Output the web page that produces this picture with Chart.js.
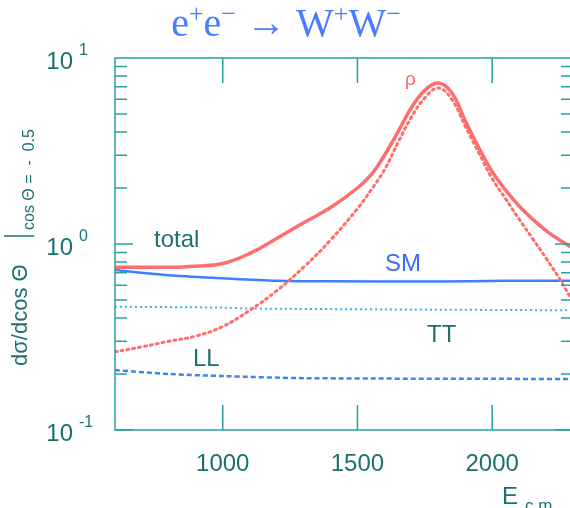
<!DOCTYPE html>
<html>
<head>
<meta charset="utf-8">
<script src="https://cdn.jsdelivr.net/npm/chart.js@4.4.1/dist/chart.umd.min.js"></script>
<style>
  html, body { margin: 0; padding: 0; background: #fff; overflow: hidden; }
  #wrap { width: 576px; height: 508px; }
</style>
</head>
<body>
<div id="wrap"><canvas id="ww" width="576" height="508"></canvas></div>
<script>
// values
const energy = [600, 700, 800, 900, 1000, 1100, 1200, 1300, 1400, 1500, 1550, 1600, 1650, 1700, 1750, 1800, 1850, 1900, 1950, 2000, 2050, 2100, 2150, 2200, 2250, 2300];
const totalVals = [0.75, 0.75, 0.75, 0.76, 0.785, 0.89, 1.07, 1.3, 1.57, 2.0, 2.35, 3.0, 4.0, 5.4, 6.7, 7.33, 6.5, 4.6, 3.3, 2.45, 1.95, 1.6, 1.36, 1.18, 1.05, 0.95];
const rhoVals = [0.263, 0.28, 0.30, 0.32, 0.36, 0.44, 0.56, 0.75, 1.05, 1.55, 1.95, 2.5, 3.5, 4.8, 6.1, 6.9, 6.0, 4.3, 3.1, 2.25, 1.75, 1.36, 1.07, 0.84, 0.65, 0.49];

const smEnergy = [600, 800, 1000, 1200, 1400, 1800, 2050, 2300];
const smVals = [0.725, 0.68, 0.655, 0.635, 0.63, 0.628, 0.635, 0.635];
const ttEnergy = [600, 1000, 1100, 1600, 2300];
const ttVals = [0.46, 0.455, 0.45, 0.445, 0.44];
const llEnergy = [600, 800, 1000, 1300, 2300];
const llVals = [0.21, 0.20, 0.195, 0.19, 0.188];

const xTicks = [1000, 1500, 2000];
const yDecades = [-1, 0, 1];

const TEXT = '#1b7070';
const FRAME = '#2aa0a0';
const SANS = '"Liberation Sans", Arial, sans-serif';
const SERIF = '"Liberation Serif", "Times New Roman", serif';

const pts = (xs, ys) => xs.map((e, i) => ({ x: e, y: ys[i] }));

// frame, inward ticks and all the hand-set text
const decor = {
    id: 'decor',
    afterDraw(chart) {
        const { ctx, chartArea: a, scales: { x, y } } = chart;
        ctx.save();

        ctx.strokeStyle = FRAME;
        ctx.lineWidth = 1.5;
        ctx.strokeRect(a.left, a.top, a.right - a.left, a.bottom - a.top);

        // x ticks, top and bottom
        ctx.beginPath();
        xTicks.forEach(v => {
            const px = x.getPixelForValue(v);
            ctx.moveTo(px, a.bottom); ctx.lineTo(px, a.bottom - 25);
            ctx.moveTo(px, a.top); ctx.lineTo(px, a.top + 25);
        });
        // y ticks, log minors, left and right
        for (let n = -1; n < 1; n++) {
            for (let k = 1; k <= 9; k++) {
                const py = y.getPixelForValue(k * Math.pow(10, n));
                const len = k === 1 ? 18 : 12;
                ctx.moveTo(a.left, py); ctx.lineTo(a.left + len, py);
                ctx.moveTo(a.right, py); ctx.lineTo(a.right - len, py);
            }
        }
        ctx.stroke();

        ctx.fillStyle = TEXT;
        ctx.textBaseline = 'alphabetic';

        // x tick labels
        ctx.font = '24px ' + SANS;
        ctx.textAlign = 'center';
        xTicks.forEach(v => ctx.fillText(String(v), x.getPixelForValue(v), 471));

        // y tick labels 10^n
        yDecades.forEach(n => {
            const py = y.getPixelForValue(Math.pow(10, n));
            ctx.font = '24px ' + SANS;
            ctx.textAlign = 'right';
            ctx.fillText('10', 73, py + 11);
            ctx.font = '16px ' + SANS;
            ctx.textAlign = 'left';
            ctx.fillText(n < 0 ? '-' + Math.abs(n) : String(n), 79, py - 3);
        });

        // x title
        ctx.font = '24px ' + SANS;
        ctx.fillText('E', 502, 504);
        ctx.font = '17px ' + SANS;
        ctx.fillText('c.m.', 525, 511);

        // y title, rotated
        ctx.save();
        ctx.translate(27, 366);
        ctx.rotate(-Math.PI / 2);
        ctx.font = '22px ' + SANS;
        ctx.fillText('dσ/dcos Θ', 0, 0);
        ctx.font = '16px ' + SANS;
        ctx.fillText('cos Θ =  -  0.5', 136, 7);
        ctx.restore();
        ctx.beginPath();
        ctx.strokeStyle = TEXT;
        ctx.lineWidth = 1.5;
        ctx.moveTo(4, 236); ctx.lineTo(34, 236);
        ctx.stroke();

        // curve labels
        ctx.font = '24px ' + SANS;
        ctx.fillText('total', 154, 247);
        ctx.fillText('TT', 427, 342);
        ctx.fillText('LL', 193, 366);
        ctx.fillStyle = '#3b6cf5';
        ctx.fillText('SM', 385, 271);
        ctx.fillStyle = '#ff6a6a';
        ctx.font = '19px ' + SANS;
        ctx.fillText('ρ', 405, 85);

        // title e+e- -> W+W-
        const runs = [['e', 0], ['+', 1], ['e', 0], ['−', 1], [' → ', 0], ['W', 0], ['+', 1], ['W', 0], ['−', 1]];
        const big = '40px ' + SERIF;
        const small = '26px ' + SERIF;
        let w = 0;
        runs.forEach(([t, s]) => { ctx.font = s ? small : big; w += ctx.measureText(t).width; });
        let cx = 286 - w / 2;
        ctx.fillStyle = '#4a7cff';
        runs.forEach(([t, s]) => {
            ctx.font = s ? small : big;
            ctx.fillText(t, cx, s ? 22 : 36);
            cx += ctx.measureText(t).width;
        });

        ctx.restore();
    }
};

new Chart(document.getElementById('ww'), {
    type: 'line',
    data: {
        datasets: [
            { label: 'total', data: pts(energy, totalVals), borderColor: '#ff6e6e', borderWidth: 3.5, tension: 0.4, pointRadius: 0 },
            { label: 'rho', data: pts(energy, rhoVals), borderColor: '#ff6e6e', borderWidth: 3, borderDash: [2, 4], borderCapStyle: 'round', tension: 0.4, pointRadius: 0 },
            { label: 'SM', data: pts(smEnergy, smVals), borderColor: '#3a82ff', borderWidth: 2.5, tension: 0.3, pointRadius: 0 },
            { label: 'TT', data: pts(ttEnergy, ttVals), borderColor: '#3fb0ea', borderWidth: 2, borderDash: [2, 3], tension: 0.3, pointRadius: 0 },
            { label: 'LL', data: pts(llEnergy, llVals), borderColor: '#3a86f0', borderWidth: 2.5, borderDash: [5, 3], tension: 0.3, pointRadius: 0 }
        ]
    },
    options: {
        responsive: false,
        animation: false,
        layout: { padding: { left: 115, top: 58, right: 3, bottom: 78 } },
        plugins: { legend: { display: false }, tooltip: { enabled: false } },
        scales: {
            x: { type: 'linear', min: 600, max: 2300, display: false },
            y: { type: 'logarithmic', min: 0.1, max: 10, display: false }
        }
    },
    plugins: [decor]
});
</script>
</body>
</html>
